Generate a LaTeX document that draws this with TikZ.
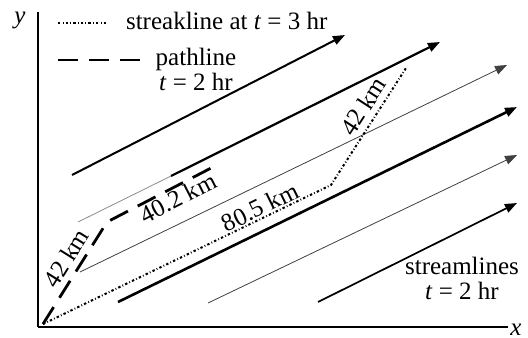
\documentclass[tikz,border=0pt]{standalone}
\usepackage{fontspec}
\setmainfont{Liberation Serif}
\usepackage{tikz}
\usetikzlibrary{arrows.meta}

\tikzset{
    stream/.style={-{Triangle[length=6pt,width=4.5pt]}},
    streak/.style={line width=1pt, dash pattern=on 1.2pt off 1.1pt on 0.4pt off 1.1pt},
    path line/.style={line width=1.4pt, dash pattern=on 10pt off 5.5pt},
    dist/.style={inner sep=1pt}
}

\begin{document}
\begin{tikzpicture}[x=0.5pt, y=-0.5pt, font=\fontsize{12.5}{12.5}\selectfont]
    \useasboundingbox (0,0) rectangle (528,337);

    % Axes
    \coordinate (o) at (38,327);
    \coordinate (ytop) at (38,12);
    \coordinate (xend) at (508,327);
    \node (ylab) at (20,20) {\textit{y}};
    \node[inner sep=0pt] (xlab) at (516,330) {\textit{x}};
    \draw[line width=0.8pt] (ytop) -- (o);
    \draw[line width=1.3pt] (o) -- (xend);

    % Streamlines at t = 2 hr
    \coordinate (a1s) at (72,175);  \coordinate (a1e) at (345,35);
    \coordinate (a2s) at (78,222);  \coordinate (a2m) at (171,176); \coordinate (a2e) at (440,42);
    \coordinate (a3s) at (80,272);  \coordinate (a3e) at (507,65);
    \coordinate (a4s) at (118,302); \coordinate (a4e) at (517,107);
    \coordinate (a5s) at (208,303); \coordinate (a5e) at (517,155);
    \coordinate (a6s) at (318,302); \coordinate (a6e) at (517,203);

    \draw[stream, line width=1pt] (a1s) -- (a1e);
    \draw[line width=0.4pt, black!45] (a2s) -- (a2m);
    \draw[stream, line width=1.1pt] (a2m) -- (a2e);
    \draw[stream, line width=0.4pt, black!75] (a3s) -- (a3e);
    \draw[stream, line width=1.3pt] (a4s) -- (a4e);
    \draw[stream, line width=0.4pt, black!75] (a5s) -- (a5e);
    \draw[stream, line width=0.85pt] (a6s) -- (a6e);

    % Streakline at t = 3 hr
    \coordinate (s0) at (43,324);
    \coordinate (s1) at (331,185);
    \coordinate (s2) at (406,68);
    \draw[streak] (s0) -- (s1) -- (s2);

    % Pathline
    \coordinate (p1) at (107,222);
    \coordinate (p2) at (215,166);
    \draw[path line] (s0) -- (p1) -- (p2);

    % Distances
    \node[dist, rotate=58] (d1) at (66,258) {42 km};
    \node[dist, rotate=27] (d2) at (178,198) {40.2 km};
    \node[dist, rotate=26] (d3) at (260,207) {80.5 km};
    \node[dist, rotate=57] (d4) at (363,106) {42 km};

    % Legend
    \coordinate (k1) at (58,23);  \coordinate (k2) at (108,23);
    \draw[streak, line width=0.6pt] (k1) -- (k2);
    \node[anchor=base west] (klab) at (119,29) {streakline at \textit{t} = 3 hr};
    \coordinate (q1) at (58,60);  \coordinate (q2) at (143,60);
    \draw[path line] (q1) -- (q2);
    \node[align=center] (qlab) at (196,69) {pathline\\\textit{t} = 2 hr};
    \node[align=center] (slab) at (462,278) {streamlines\\\textit{t} = 2 hr};
\end{tikzpicture}
\end{document}
